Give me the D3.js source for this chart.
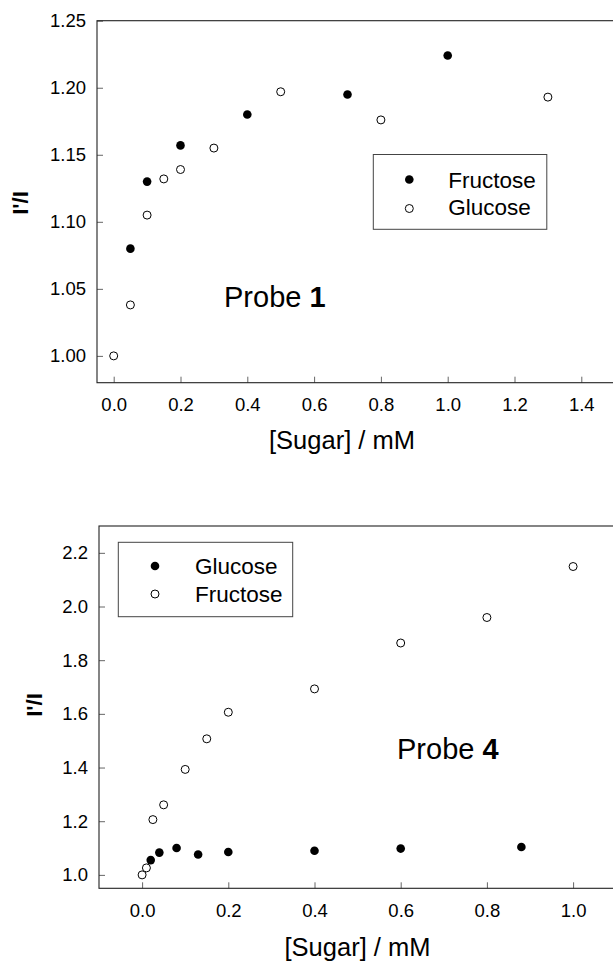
<!DOCTYPE html>
<html>
<head>
<meta charset="utf-8">
<script src="https://cdn.jsdelivr.net/npm/d3@7"></script>
<style>
  html, body { margin: 0; padding: 0; background: #fff; }
  svg { display: block; font-family: "Liberation Sans", Arial, Helvetica, sans-serif; }
</style>
</head>
<body>
<svg id="chart" width="613" height="961"></svg>
<script>
// ---- Data: Probe 1 ----
const p1FructoseX = [0.05, 0.1, 0.2, 0.4, 0.7, 1.0];
const p1FructoseY = [1.080, 1.130, 1.157, 1.180, 1.195, 1.224];
const p1GlucoseX  = [0.0, 0.05, 0.1, 0.15, 0.2, 0.3, 0.5, 0.8, 1.3];
const p1GlucoseY  = [1.000, 1.038, 1.105, 1.132, 1.139, 1.155, 1.197, 1.176, 1.193];
const p1XTicks = [0.0, 0.2, 0.4, 0.6, 0.8, 1.0, 1.2, 1.4];
const p1YTicks = [1.00, 1.05, 1.10, 1.15, 1.20, 1.25];

// ---- Data: Probe 4 ----
const p4GlucoseX  = [0.02, 0.04, 0.08, 0.13, 0.2, 0.4, 0.6, 0.88];
const p4GlucoseY  = [1.055, 1.083, 1.100, 1.076, 1.085, 1.090, 1.098, 1.104];
const p4FructoseX = [0.0, 0.01, 0.025, 0.05, 0.1, 0.15, 0.2, 0.4, 0.6, 0.8, 1.0];
const p4FructoseY = [1.000, 1.026, 1.206, 1.261, 1.393, 1.507, 1.606, 1.693, 1.864, 1.959, 2.149];
const p4XTicks = [0.0, 0.2, 0.4, 0.6, 0.8, 1.0];
const p4YTicks = [1.0, 1.2, 1.4, 1.6, 1.8, 2.0, 2.2];

const svg = d3.select("#chart");

function panel(cfg) {
  const g = svg.append("g");
  const x = d3.scaleLinear().domain(cfg.xDomain).range([cfg.left, cfg.right]);
  const y = d3.scaleLinear().domain(cfg.yDomain).range([cfg.bottom, cfg.top]);

  // axes with inward ticks
  const xAxis = d3.axisBottom(x).tickValues(cfg.xTicks).tickFormat(d3.format(".1f"))
    .tickSize(-6).tickPadding(15.5);
  const gx = g.append("g").attr("transform", `translate(0,${cfg.bottom})`).call(xAxis);
  const yAxis = d3.axisLeft(y).tickValues(cfg.yTicks).tickFormat(d3.format(cfg.yFmt))
    .tickSize(-6).tickPadding(11);
  const gy = g.append("g").attr("transform", `translate(${cfg.left},0)`).call(yAxis);
  [gx, gy].forEach(a => {
    a.select(".domain").remove();
    a.selectAll(".tick line").attr("stroke", "#666").attr("stroke-width", 1);
    a.selectAll(".tick text").attr("fill", "#000").style("font-size", "18.5px")
      .style("font-family", '"Liberation Sans", Arial, sans-serif');
  });

  // frame
  g.append("rect")
    .attr("x", cfg.left).attr("y", cfg.top)
    .attr("width", cfg.right - cfg.left).attr("height", cfg.bottom - cfg.top)
    .attr("fill", "none").attr("stroke", "#222").attr("stroke-width", 1.1);

  // points
  cfg.series.forEach(s => {
    g.append("g").selectAll("circle")
      .data(s.xs.map((v, i) => [v, s.ys[i]]))
      .join("circle")
      .attr("cx", d => x(d[0])).attr("cy", d => y(d[1]))
      .attr("r", s.filled ? 4.3 : 4)
      .attr("fill", s.filled ? "#000" : "#fff")
      .attr("stroke", "#000").attr("stroke-width", s.filled ? 0 : 1);
  });

  // legend
  const L = cfg.legend;
  g.append("rect").attr("x", L.x).attr("y", L.y).attr("width", L.w).attr("height", L.h)
    .attr("fill", "#fff").attr("stroke", "#444").attr("stroke-width", 1);
  L.items.forEach((it, i) => {
    g.append("circle").attr("cx", L.mx).attr("cy", L.my[i])
      .attr("r", it.filled ? 4.3 : 4)
      .attr("fill", it.filled ? "#000" : "#fff")
      .attr("stroke", "#000").attr("stroke-width", it.filled ? 0 : 1);
    g.append("text").attr("x", L.tx).attr("y", L.ty[i])
      .style("font-size", "22.5px").text(it.label);
  });

  // probe label
  const pt = g.append("text").attr("x", cfg.probe.x).attr("y", cfg.probe.y)
    .style("font-size", "29px");
  pt.append("tspan").text("Probe ");
  pt.append("tspan").attr("font-weight", "bold").text(cfg.probe.num);

  // axis titles
  g.append("text").attr("x", cfg.xTitle.x).attr("y", cfg.xTitle.y)
    .attr("text-anchor", "middle").style("font-size", "25.5px").text("[Sugar] / mM");
  g.append("text")
    .attr("transform", `translate(${cfg.yTitle.x},${cfg.yTitle.y}) rotate(-90)`)
    .attr("text-anchor", "middle").style("font-size", "22px").attr("font-weight", "bold")
    .text("I'/I");
}

panel({
  left: 97, right: 614.7, top: 20.7, bottom: 382.7,
  xDomain: [-0.05, 1.5], yDomain: [0.98, 1.25],
  xTicks: p1XTicks, yTicks: p1YTicks, yFmt: ".2f",
  series: [
    { xs: p1FructoseX, ys: p1FructoseY, filled: true },
    { xs: p1GlucoseX, ys: p1GlucoseY, filled: false }
  ],
  legend: { x: 373.3, y: 154.5, w: 173.5, h: 74.8, mx: 409.3, my: [179.5, 208.5], tx: 448.3, ty: [187.5, 215],
    items: [{ label: "Fructose", filled: true }, { label: "Glucose", filled: false }] },
  probe: { x: 224, y: 306.7, num: "1" },
  xTitle: { x: 342, y: 449 },
  yTitle: { x: 28, y: 203 }
});

panel({
  left: 99, right: 616.2, top: 526, bottom: 888.3,
  xDomain: [-0.1, 1.1], yDomain: [0.95, 2.3],
  xTicks: p4XTicks, yTicks: p4YTicks, yFmt: ".1f",
  series: [
    { xs: p4GlucoseX, ys: p4GlucoseY, filled: true },
    { xs: p4FructoseX, ys: p4FructoseY, filled: false }
  ],
  legend: { x: 118.3, y: 542.3, w: 174.4, h: 74.4, mx: 155, my: [566, 594], tx: 195, ty: [574, 602],
    items: [{ label: "Glucose", filled: true }, { label: "Fructose", filled: false }] },
  probe: { x: 397, y: 759.3, num: "4" },
  xTitle: { x: 357.5, y: 956 },
  yTitle: { x: 42, y: 705 }
});
</script>
</body>
</html>
